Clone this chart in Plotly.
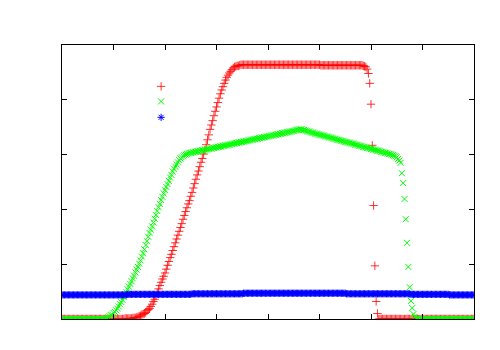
import numpy as np
import plotly.graph_objects as go

# grid: 321 samples across the domain
x = np.arange(321) * 0.025

red = ([0.0] * 46
       + [0.00, 0.00, 0.00, 0.01, 0.01, 0.01, 0.01, 0.01, 0.01, 0.02,
          0.02, 0.02, 0.03, 0.04, 0.05, 0.06, 0.08, 0.09, 0.10, 0.12,
          0.15, 0.17, 0.19, 0.23, 0.27, 0.32, 0.36, 0.42, 0.48, 0.55,
          0.61, 0.67, 0.73, 0.78, 0.84, 0.91, 0.98, 1.05, 1.12, 1.18,
          1.25, 1.32, 1.39, 1.46, 1.53, 1.60, 1.67, 1.74, 1.82, 1.89,
          1.96, 2.03, 2.10, 2.16, 2.24, 2.31, 2.39, 2.47, 2.55, 2.63,
          2.70, 2.78, 2.86, 2.93, 3.01, 3.08, 3.18, 3.27, 3.36, 3.46,
          3.54, 3.62, 3.71, 3.79, 3.87, 3.95, 4.03, 4.11, 4.18, 4.24,
          4.30, 4.36, 4.41, 4.45, 4.49, 4.52, 4.55, 4.58, 4.60, 4.61,
          4.62, 4.62, 4.63]
       + [4.64] * 62
       + [4.63] * 33
       + [4.62, 4.61, 4.60, 4.56, 4.48, 4.30, 3.92, 3.17, 2.07, 0.97,
          0.32, 0.10]
       + [0.0] * 75)

green = ([0.0] * 33
         + [0.00, 0.01, 0.02, 0.03, 0.05, 0.07, 0.08, 0.11, 0.13, 0.16,
            0.19, 0.23, 0.27, 0.31, 0.35, 0.40, 0.45, 0.49, 0.54, 0.59,
            0.64, 0.69, 0.74, 0.79, 0.85, 0.90, 0.95, 1.01, 1.07, 1.14,
            1.20, 1.27, 1.35, 1.42, 1.50, 1.57, 1.63, 1.69, 1.76, 1.83,
            1.90, 1.97, 2.04, 2.10, 2.17, 2.23, 2.29, 2.35, 2.41, 2.46,
            2.52, 2.58, 2.63, 2.69, 2.74, 2.78, 2.82, 2.86, 2.90, 2.93,
            2.95, 2.97, 2.99, 3.00, 3.01, 3.02, 3.03, 3.03]
         + [3.04, 3.04, 3.05, 3.05, 3.06, 3.06, 3.07, 3.07, 3.08, 3.08,
            3.09, 3.09, 3.10, 3.10, 3.11, 3.11, 3.12, 3.12, 3.13, 3.13,
            3.14, 3.14, 3.15, 3.15, 3.16, 3.16, 3.17, 3.17, 3.18, 3.18,
            3.19, 3.19, 3.20, 3.20, 3.21, 3.21, 3.22, 3.22, 3.23, 3.23,
            3.24, 3.24, 3.25, 3.25, 3.26, 3.26, 3.27, 3.27, 3.28, 3.28,
            3.29, 3.29, 3.30, 3.30, 3.31, 3.31, 3.32, 3.32, 3.33, 3.33,
            3.34, 3.34, 3.35, 3.35, 3.36, 3.36, 3.37, 3.37, 3.38, 3.38,
            3.39, 3.39, 3.40, 3.40, 3.41, 3.41, 3.42, 3.42, 3.43, 3.43]
         + [3.44, 3.45, 3.45, 3.46, 3.46, 3.46, 3.45, 3.45, 3.44, 3.43]
         + [3.42, 3.42, 3.41, 3.40, 3.40, 3.39, 3.38, 3.38, 3.37, 3.36,
            3.36, 3.35, 3.35, 3.34, 3.33, 3.33, 3.32, 3.31, 3.31, 3.30,
            3.29, 3.29, 3.28, 3.27, 3.27, 3.26, 3.25, 3.25, 3.24, 3.23,
            3.23, 3.22, 3.22, 3.21, 3.20, 3.20, 3.19, 3.18, 3.18, 3.17,
            3.16, 3.16, 3.15, 3.14, 3.14, 3.13, 3.12, 3.12, 3.11, 3.10,
            3.10, 3.09, 3.09, 3.08, 3.07, 3.07, 3.06, 3.05, 3.05, 3.04,
            3.03, 3.03, 3.02, 3.01, 3.01, 3.00, 2.99]
         + [2.98, 2.97, 2.95, 2.92, 2.89, 2.85, 2.66, 2.48, 2.19, 1.82,
            1.39, 0.95, 0.58, 0.33, 0.20, 0.09, 0.04, 0.01]
         + [0.0] * 45)

blue = ([0.44] * 51 + [0.45] * 50 + [0.46] * 40 + [0.47] * 80
        + [0.46] * 50 + [0.45] * 30 + [0.44] * 20)

series = [
    (red, "#ff0000", "cross-thin", 6, 0.8, "legend"),
    (green, "#00ff00", "x-thin", 6, 1, "legend2"),
    (blue, "#0000ff", "asterisk", 6, 1, "legend3"),
]

fig = go.Figure()
for ys, col, sym, sz, lw, leg in series:
    fig.add_trace(go.Scatter(
        x=x, y=ys, mode="markers", name="", legend=leg,
        marker=dict(symbol=sym, size=sz, color=col,
                    line=dict(color=col, width=lw)),
    ))

# gnuplot-style key: samples only, no titles
key_y = [0.849, 0.794, 0.736]
leg_common = dict(x=0.192, xanchor="left", yanchor="middle",
                  bgcolor="rgba(0,0,0,0)", font=dict(size=10),
                  itemwidth=30)
fig.update_layout(
    legend=dict(y=key_y[0], **leg_common),
    legend2=dict(y=key_y[1], **leg_common),
    legend3=dict(y=key_y[2], **leg_common),
)

axis_style = dict(showgrid=False, zeroline=False, showticklabels=False,
                  ticks="inside", ticklen=5, tickcolor="black", tickwidth=1,
                  showline=True, linecolor="black", linewidth=1,
                  mirror="allticks")

fig.update_xaxes(range=[0, 8], dtick=1, tick0=0, **axis_style)
fig.update_yaxes(range=[0, 5], dtick=1, tick0=0, **axis_style)

# the page body adds 8px, so margins are trimmed to match
fig.update_layout(
    width=500, height=350,
    margin=dict(l=54, r=34, t=37, b=39),
    plot_bgcolor="white", paper_bgcolor="white",
    showlegend=True,
)

fig.write_html("out.html")
